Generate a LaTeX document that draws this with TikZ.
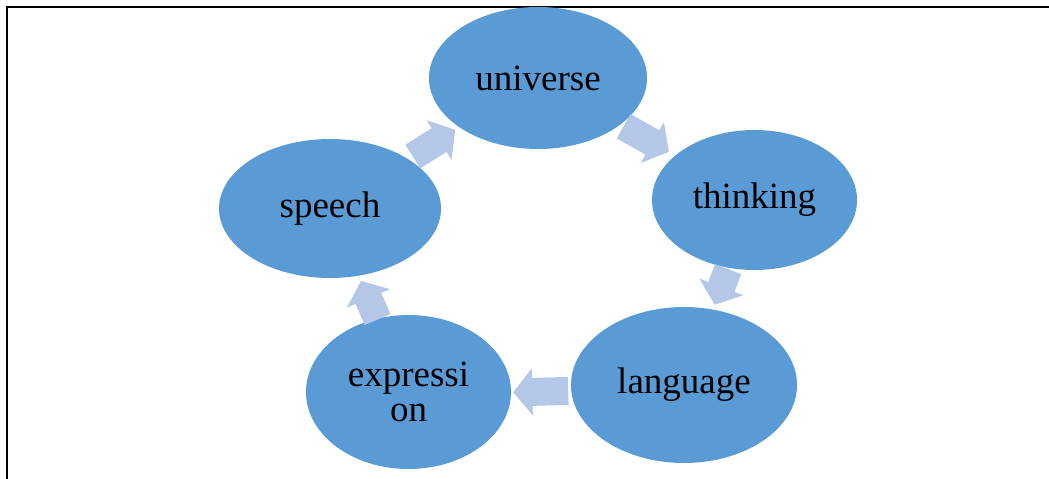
\documentclass[tikz,border=0pt]{standalone}
\usepackage{fontspec}
\setmainfont{Liberation Serif}
\usetikzlibrary{calc,shapes.geometric}
\definecolor{nodeblue}{HTML}{5B9BD5}
\definecolor{arrowblue}{HTML}{B4C7E7}
\tikzset{
  cyclenode/.style={ellipse, fill=nodeblue, draw=none, inner sep=0pt, align=center,
    font=\fontsize{37}{35}\selectfont, text=black},
  blockarrow/.pic={
    \fill[arrowblue] (-#1/2,-14) -- (#1/2-19,-14) -- (#1/2-19,-23.5) -- (#1/2,0)
      -- (#1/2-19,23.5) -- (#1/2-19,14) -- (-#1/2,14) -- cycle;
  }
}
\begin{document}
\begin{tikzpicture}[x=1pt,y=-1pt]
\useasboundingbox (0,0) rectangle (1049,479);
% frame lines
\draw[line width=2.2pt] (7,479) coordinate (fa) -- (7,7) coordinate (fb) -- (1049,7) coordinate (fc);
% nodes
\node[cyclenode, minimum width=218pt, minimum height=142pt] (universe) at (538,78) {universe};
\node[cyclenode, minimum width=205pt, minimum height=140pt] (thinking) at (754.5,200) {thinking};
\node[cyclenode, minimum width=226pt, minimum height=156pt] (language) at (684,385) {language};
\node[cyclenode, minimum width=205pt, minimum height=154pt] (expression) at (408.5,392) {expressi\\on};
\node[cyclenode, minimum width=222pt, minimum height=139pt] (speech) at (330,208.5) {speech};
% arrows
\path let \p1=($(universe)-(speech)$), \n1={atan2(\y1,\x1)} in
  ($(speech)!0.5!(universe)$) pic[rotate=\n1] {blockarrow=50};
\path let \p1=($(thinking)-(universe)$), \n1={atan2(\y1,\x1)} in
  ($(universe)!0.5!(thinking)$) pic[rotate=\n1] {blockarrow=52};
\path let \p1=($(language)-(thinking)$), \n1={atan2(\y1,\x1)} in
  ($(thinking)!0.47!(language)$) pic[rotate=\n1] {blockarrow=38};
\path let \p1=($(expression)-(language)$), \n1={atan2(\y1,\x1)} in
  ($(language)!0.52!(expression)+(0,3)$) pic[rotate=\n1] {blockarrow=55};
\path let \p1=($(speech)-(expression)$), \n1={atan2(\y1,\x1)} in
  ($(expression)!0.5!(speech)$) pic[rotate=\n1] {blockarrow=42};
\end{tikzpicture}
\end{document}
